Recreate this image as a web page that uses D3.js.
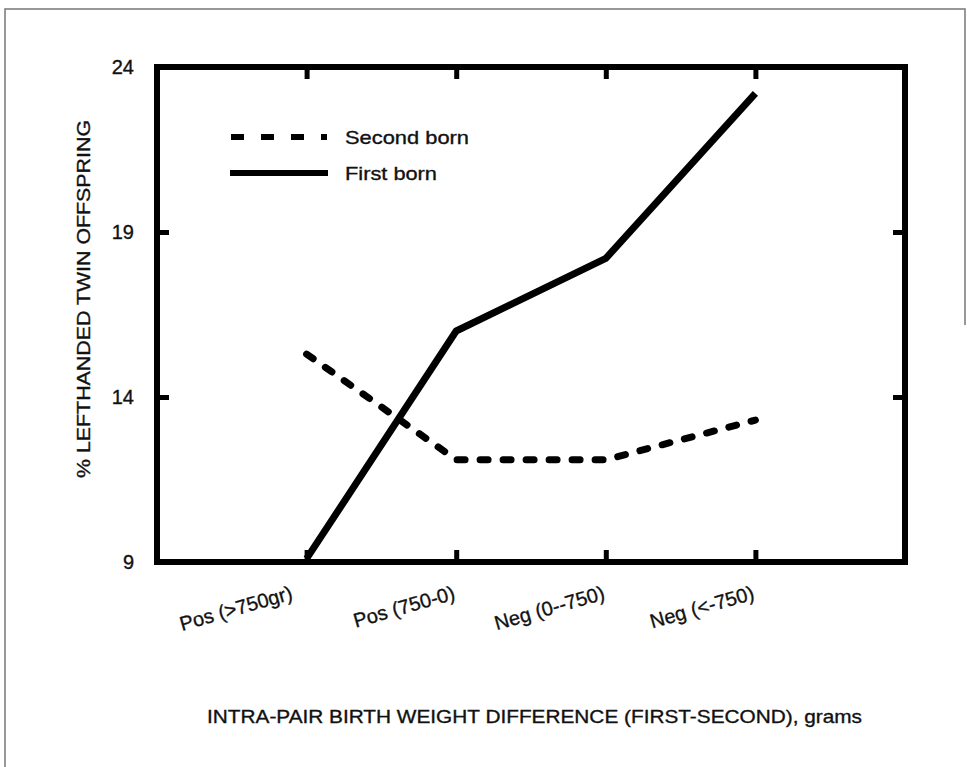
<!DOCTYPE html>
<meta charset="utf-8">
<head>
<style>
  body { margin: 0; background: #fff; }
  text { font-family: "Liberation Sans", Arial, sans-serif; fill: #111; stroke: #111; stroke-width: 0.35px; }
</style>
</head>
<body>
<script src="https://cdn.jsdelivr.net/npm/d3@7"></script>
<script type="text/javascript">
    // data
    var categories = ["Pos (>750gr)", "Pos (750-0)", "Neg (0--750)", "Neg (<-750)"];
    var firstBorn = [9.1, 16.0, 18.2, 23.2];
    var secondBorn = [15.3, 12.1, 12.1, 13.3];
    var yTicks = [9, 14, 19, 24];

    var w = 967, h = 767;
    var plotL = 157, plotR = 905, plotT = 67, plotB = 562;

    var svg = d3.select("body").append("svg")
        .attr("width", w)
        .attr("height", h);

    // outer scanned frame
    svg.append("path")
        .attr("d", "M5,767 L5,9 L965,9 L965,325")
        .attr("fill", "none")
        .attr("stroke", "#777")
        .attr("stroke-width", 1.5);

    var x = d3.scaleLinear().domain([0, categories.length + 1]).range([plotL, plotR]);
    var y = d3.scaleLinear().domain([9, 24]).range([plotB, plotT]);

    // inward ticks on all four sides
    var ax = function(g, axis) { g.call(axis); g.select(".domain").remove(); };
    var idx = categories.map(function(d, i) { return i + 1; });

    svg.append("g").attr("transform", "translate(0," + plotB + ")")
        .call(ax, d3.axisTop(x).tickValues(idx).tickSize(12).tickFormat(""));
    svg.append("g").attr("transform", "translate(0," + plotT + ")")
        .call(ax, d3.axisBottom(x).tickValues(idx).tickSize(12).tickFormat(""));
    svg.append("g").attr("transform", "translate(" + plotL + ",0)")
        .call(ax, d3.axisRight(y).tickValues([14, 19]).tickSize(12).tickFormat(""));
    svg.append("g").attr("transform", "translate(" + plotR + ",0)")
        .call(ax, d3.axisLeft(y).tickValues([14, 19]).tickSize(12).tickFormat(""));
    svg.selectAll(".tick line").attr("stroke", "#000").attr("stroke-width", 5);

    svg.append("rect")
        .attr("x", plotL).attr("y", plotT)
        .attr("width", plotR - plotL).attr("height", plotB - plotT)
        .attr("fill", "none").attr("stroke", "#000").attr("stroke-width", 6);

    // y tick labels
    svg.selectAll(".ylab").data(yTicks).enter().append("text")
        .attr("x", 134).attr("y", function(d) { return y(d) + 7; })
        .attr("text-anchor", "end")
        .style("font-size", "20px")
        .text(function(d) { return d; });

    // x tick labels, tilted
    svg.selectAll(".xlab").data(categories).enter().append("text")
        .attr("text-anchor", "end")
        .attr("transform", function(d, i) {
            var dx = i === 0 ? -13 : 0;
            return "translate(" + (x(i + 1) + dx) + ",599) rotate(-16)";
        })
        .style("font-size", "20px")
        .text(function(d) { return d; });

    // lines
    var line = d3.line()
        .x(function(d, i) { return x(i + 1); })
        .y(function(d) { return y(d); });

    svg.append("path").datum(secondBorn)
        .attr("d", line)
        .attr("fill", "none").attr("stroke", "#000")
        .attr("stroke-width", 7)
        .attr("stroke-linecap", "round")
        .attr("stroke-dasharray", "8,15");

    svg.append("path").datum(firstBorn)
        .attr("d", line)
        .attr("fill", "none").attr("stroke", "#000")
        .attr("stroke-width", 7)
        .attr("stroke-linejoin", "round");

    // legend
    svg.append("line").attr("x1", 231).attr("x2", 327).attr("y1", 137).attr("y2", 137)
        .attr("stroke", "#000").attr("stroke-width", 6).attr("stroke-dasharray", "13,17");
    svg.append("line").attr("x1", 230).attr("x2", 328).attr("y1", 173).attr("y2", 173)
        .attr("stroke", "#000").attr("stroke-width", 6);
    svg.append("text").attr("x", 345).attr("y", 144)
        .attr("textLength", 124).attr("lengthAdjust", "spacingAndGlyphs")
        .style("font-size", "19px").text("Second born");
    svg.append("text").attr("x", 345).attr("y", 180)
        .attr("textLength", 92).attr("lengthAdjust", "spacingAndGlyphs")
        .style("font-size", "19px").text("First born");

    // axis titles
    svg.append("text")
        .attr("x", 207).attr("y", 723)
        .attr("textLength", 655).attr("lengthAdjust", "spacingAndGlyphs")
        .style("font-size", "19px")
        .text("INTRA-PAIR BIRTH WEIGHT DIFFERENCE (FIRST-SECOND), grams");

    svg.append("text")
        .attr("transform", "translate(90,299) rotate(-90)")
        .attr("text-anchor", "middle")
        .attr("textLength", 358).attr("lengthAdjust", "spacingAndGlyphs")
        .style("font-size", "19px")
        .text("% LEFTHANDED TWIN OFFSPRING");
</script>
</body>
